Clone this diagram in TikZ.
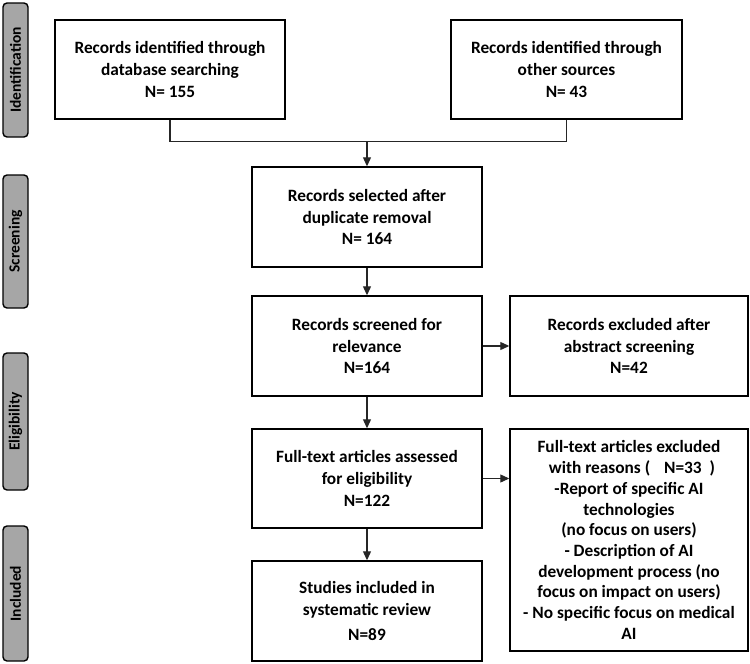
\documentclass[tikz,border=0pt]{standalone}
\usepackage{fontspec}
\setmainfont{Carlito}
\usetikzlibrary{arrows.meta}
\definecolor{sidegray}{HTML}{A6A6A6}
\tikzset{
  box/.style={draw=black, line width=1.4pt, fill=white, align=center,
    font=\bfseries\fontsize{17.3}{21.8}\selectfont, inner sep=2pt},
  side/.style={draw=black, line width=1.4pt, fill=sidegray, rounded corners=4pt,
    rotate=90, minimum height=25pt, inner sep=0pt,
    font=\bfseries\fontsize{15.5}{18}\selectfont},
  conn/.style={line width=1.1pt, draw=black!85},
  arr/.style={conn, -{Triangle[length=9pt,width=8pt]}}
}
\begin{document}
\begin{tikzpicture}[x=1pt,y=-1pt]
\useasboundingbox (0,0) rectangle (750,664);
% side labels
\node[side, minimum width=134pt] (sid) at (15.5,70) {Identification};
\node[side, minimum width=133pt] (sscr) at (15.5,241.5) {Screening};
\node[side, minimum width=137pt] (selig) at (15.5,421.5) {Eligibility};
\node[side, minimum width=135pt] (sinc) at (15.5,593.5) {Included};
% boxes
\node[box, minimum width=230pt, minimum height=99pt] (b1) at (170,69.5)
  {Records identified through\\database searching\\N= 155};
\node[box, minimum width=231pt, minimum height=99pt] (b2) at (566.5,69.5)
  {Records identified through\\other sources\\N= 43};
\node[box, minimum width=230pt, minimum height=100pt] (b3) at (367,217)
  {Records selected after\\duplicate removal\\N= 164};
\node[box, minimum width=230pt, minimum height=100pt] (b4) at (367,346)
  {Records screened for\\relevance\\N=164};
\node[box, minimum width=238pt, minimum height=100pt] (b5) at (629,346)
  {Records excluded after\\abstract screening\\N=42};
\node[box, minimum width=230pt, minimum height=99pt] (b6) at (367,478.5)
  {Full-text articles assessed\\for eligibility\\N=122};
\node[box, minimum width=238pt, minimum height=222pt, font=\bfseries\fontsize{17.3}{20.7}\selectfont] (b7) at (629,540)
  {Full-text articles excluded\\\hspace*{6pt}with reasons (\hspace{14pt}N=33\hspace{8pt})\\-Report of specific AI\\technologies\\(no focus on users)\\- Description of AI\\development process (no\\focus on impact on users)\\- No specific focus on medical\\AI};
\node[box, minimum width=230pt, minimum height=100pt] (b8) at (367,611)
  {Studies included in\\systematic review\\[4pt]N=89};
% connectors
\coordinate (j) at (367,141.5);
\draw[conn] (b1.south) |- (j) -| (b2.south);
\draw[arr] (j) -- (b3.north);
\draw[arr] (b3.south) -- (b4.north);
\draw[arr] (b4.east) -- (b5.west);
\draw[arr] (b4.south) -- (b6.north);
\draw[arr] (b6.east) -- (b7.west |- b6.east);
\draw[arr] (b6.south) -- (b8.north);
\end{tikzpicture}
\end{document}
